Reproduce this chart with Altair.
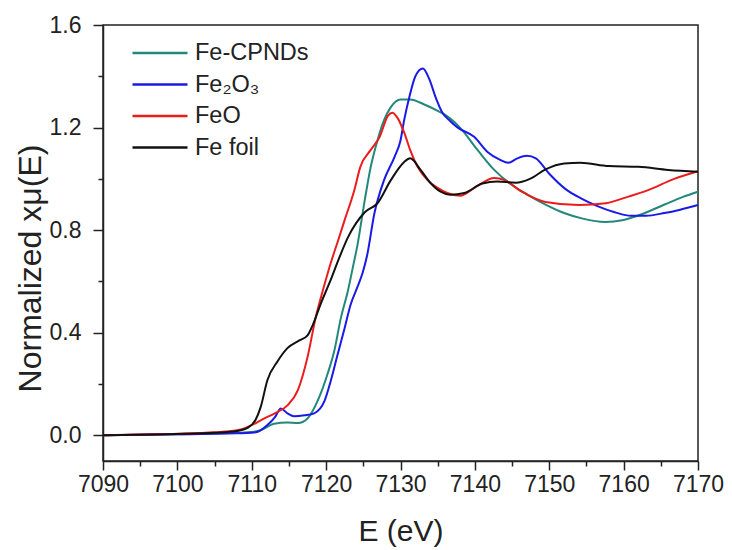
import altair as alt
import pandas as pd

series = ["Fe-CPNDs", "Fe₂O₃", "FeO", "Fe foil"]
colors = ["#23877a", "#1a1ae6", "#ec1c1c", "#111111"]

cpnd_e = [7090, 7095, 7100, 7105, 7108, 7110, 7111.2, 7113, 7114.8, 7116.2, 7117.5, 7118.9, 7120.2,
          7121.1, 7122, 7122.9, 7123.6, 7124.2, 7125.2, 7126, 7126.9, 7127.8, 7128.7, 7130, 7131.3,
          7133.2, 7135, 7136.7, 7138, 7140.3, 7142.6, 7144.8, 7147, 7149.5, 7152, 7154.5, 7157.5,
          7160, 7162.7, 7165.5, 7168, 7170]
cpnd_v = [0.0, 0.002, 0.004, 0.007, 0.010, 0.013, 0.02, 0.045, 0.05, 0.048, 0.066, 0.137, 0.24,
          0.33, 0.46, 0.56, 0.656, 0.74, 0.918, 1.047, 1.15, 1.23, 1.28, 1.31, 1.31,
          1.29, 1.265, 1.235, 1.20, 1.115, 1.035, 0.98, 0.94, 0.90, 0.867, 0.845, 0.832,
          0.84, 0.865, 0.90, 0.93, 0.95]

fe2o3_e = [7090, 7095, 7100, 7105, 7108, 7110, 7110.8, 7112.1, 7113.1, 7113.9, 7114.8, 7115.7,
           7117.1, 7118.4, 7119.8, 7120.6, 7121.5, 7122.5, 7123.3, 7124.2, 7124.9, 7125.5, 7126.5,
           7127.8, 7129.2, 7130, 7130.5, 7131.2, 7132, 7133, 7133.9, 7134.7, 7135.6, 7136.7,
           7137.7, 7139.9, 7141.7, 7143.4, 7144.5, 7145.7, 7147, 7148.2, 7150, 7152.2, 7154.2,
           7156.4, 7158.8, 7161, 7163, 7165.5, 7167.6, 7170]
fe2o3_v = [0.0, 0.002, 0.004, 0.006, 0.008, 0.010, 0.014, 0.04, 0.07, 0.105, 0.086, 0.074,
           0.078, 0.086, 0.135, 0.21, 0.31, 0.42, 0.51, 0.578, 0.633, 0.70, 0.867,
           0.996, 1.086, 1.15, 1.23, 1.32, 1.40, 1.43, 1.387, 1.32, 1.26, 1.225,
           1.20, 1.164, 1.105, 1.074, 1.063, 1.08, 1.09, 1.08, 1.02, 0.96, 0.925,
           0.895, 0.87, 0.856, 0.856, 0.867, 0.88, 0.898]

feo_e = [7090, 7095, 7100, 7105, 7108, 7109, 7111.7, 7113.1, 7114.8, 7116.2, 7117.5, 7118.6,
         7119.8, 7120.6, 7121.5, 7122.5, 7123.8, 7124.6, 7126, 7127.2, 7128.3, 7128.9, 7129.6,
         7130.5, 7131.3, 7132.3, 7133.6, 7135, 7136.3, 7138, 7140.3, 7142.6, 7144, 7146.3,
         7149.5, 7154, 7157.6, 7160, 7163.2, 7166.8, 7170]
feo_v = [0.0, 0.003, 0.006, 0.012, 0.02, 0.027, 0.066, 0.086, 0.117, 0.176, 0.305, 0.46,
         0.59, 0.67, 0.75, 0.84, 0.957, 1.047, 1.113, 1.164, 1.246, 1.258, 1.238,
         1.18, 1.113, 1.047, 0.996, 0.965, 0.945, 0.934, 0.972, 1.003, 0.995, 0.95,
         0.91, 0.898, 0.905, 0.925, 0.955, 1.0, 1.03]

foil_e = [7090, 7095, 7100, 7105, 7108, 7109.5, 7110.5, 7111.2, 7112.1, 7113.5, 7114.8, 7116.4,
          7117.5, 7118.2, 7119.3, 7120.6, 7121.8, 7122.9, 7125.2, 7126.9, 7128.7, 7130.5, 7131.3,
          7132.7, 7134, 7135.4, 7136.7, 7138.6, 7141, 7143, 7145.5, 7147.4, 7149.5, 7152,
          7154.2, 7158, 7162, 7166, 7170]
foil_v = [0.0, 0.002, 0.005, 0.01, 0.017, 0.03, 0.06, 0.11, 0.215, 0.29, 0.34, 0.37,
          0.39, 0.43, 0.515, 0.605, 0.695, 0.77, 0.87, 0.905, 0.995, 1.066, 1.08,
          1.035, 0.985, 0.95, 0.938, 0.945, 0.982, 0.99, 0.985, 1.0, 1.037, 1.06,
          1.063, 1.05, 1.047, 1.035, 1.028]

x_ticks = list(range(7090, 7171, 5))
y_ticks = [round(0.2 * i, 1) for i in range(9)]

rows = []
for name, es, vs in [(series[0], cpnd_e, cpnd_v), (series[1], fe2o3_e, fe2o3_v),
                     (series[2], feo_e, feo_v), (series[3], foil_e, foil_v)]:
    for i, (e, v) in enumerate(zip(es, vs)):
        rows.append({"series": name, "E": e, "mu": v, "idx": i})
df = pd.DataFrame(rows)

FONT = "Liberation Sans"
INK = "#222222"

chart = alt.Chart(df).mark_line(interpolate="monotone", strokeWidth=2).encode(
    x=alt.X("E:Q",
            scale=alt.Scale(domain=[7090, 7170], nice=False, zero=False),
            axis=alt.Axis(title="E (eV)", values=x_ticks, format="d",
                          labelExpr="datum.value % 10 == 0 ? datum.label : ''",
                          tickSize={"condition": {"test": "datum.value % 10 == 0", "value": 9}, "value": 5},
                          labelPadding=3, labelFontSize=23, titleFontSize=30, labelFlush=False,
                          titleFontWeight="normal", titleBaseline="alphabetic", titleY=79,
                          labelOverlap=False, grid=False)),
    y=alt.Y("mu:Q",
            scale=alt.Scale(domain=[-0.1, 1.6], nice=False, zero=False),
            axis=alt.Axis(title="Normalized xμ(E)", values=y_ticks, format=".1f",
                          labelExpr="abs(datum.value/0.4 - round(datum.value/0.4)) < 0.01 ? datum.label : ''",
                          tickSize={"condition": {"test": "abs(datum.value/0.4 - round(datum.value/0.4)) < 0.01", "value": 10}, "value": 5},
                          labelPadding=12, labelFontSize=23, titleFontSize=32, labelFlush=False,
                          titleFontWeight="normal", titleBaseline="alphabetic",
                          titleX=-63, titleY=243, titleAngle=270,
                          labelOverlap=False, grid=False)),
    color=alt.Color("series:N", sort=series,
                    scale=alt.Scale(domain=series, range=colors),
                    legend=alt.Legend(title=None, orient="none", legendX=28, legendY=16,
                                      symbolType="stroke", symbolSize=3025, symbolStrokeWidth=2.5,
                                      labelFontSize=23.5, labelFont=FONT, labelColor=INK,
                                      labelOffset=6, clipHeight=24, rowPadding=7.5, padding=0)),
    order=alt.Order("idx:Q"),
).properties(
    width=595, height=436,
    autosize=alt.AutoSizeParams(type="none"),
    padding={"left": 95, "top": 17, "right": 26, "bottom": 88},
).configure_view(
    stroke=INK, strokeWidth=1.5
).configure_axis(
    domainColor=INK, domainWidth=1.5, tickColor=INK, tickWidth=1.5,
    labelColor=INK, titleColor=INK, labelFont=FONT, titleFont=FONT
)

chart.save("out.html", embed_options={"renderer": "svg", "actions": False})
